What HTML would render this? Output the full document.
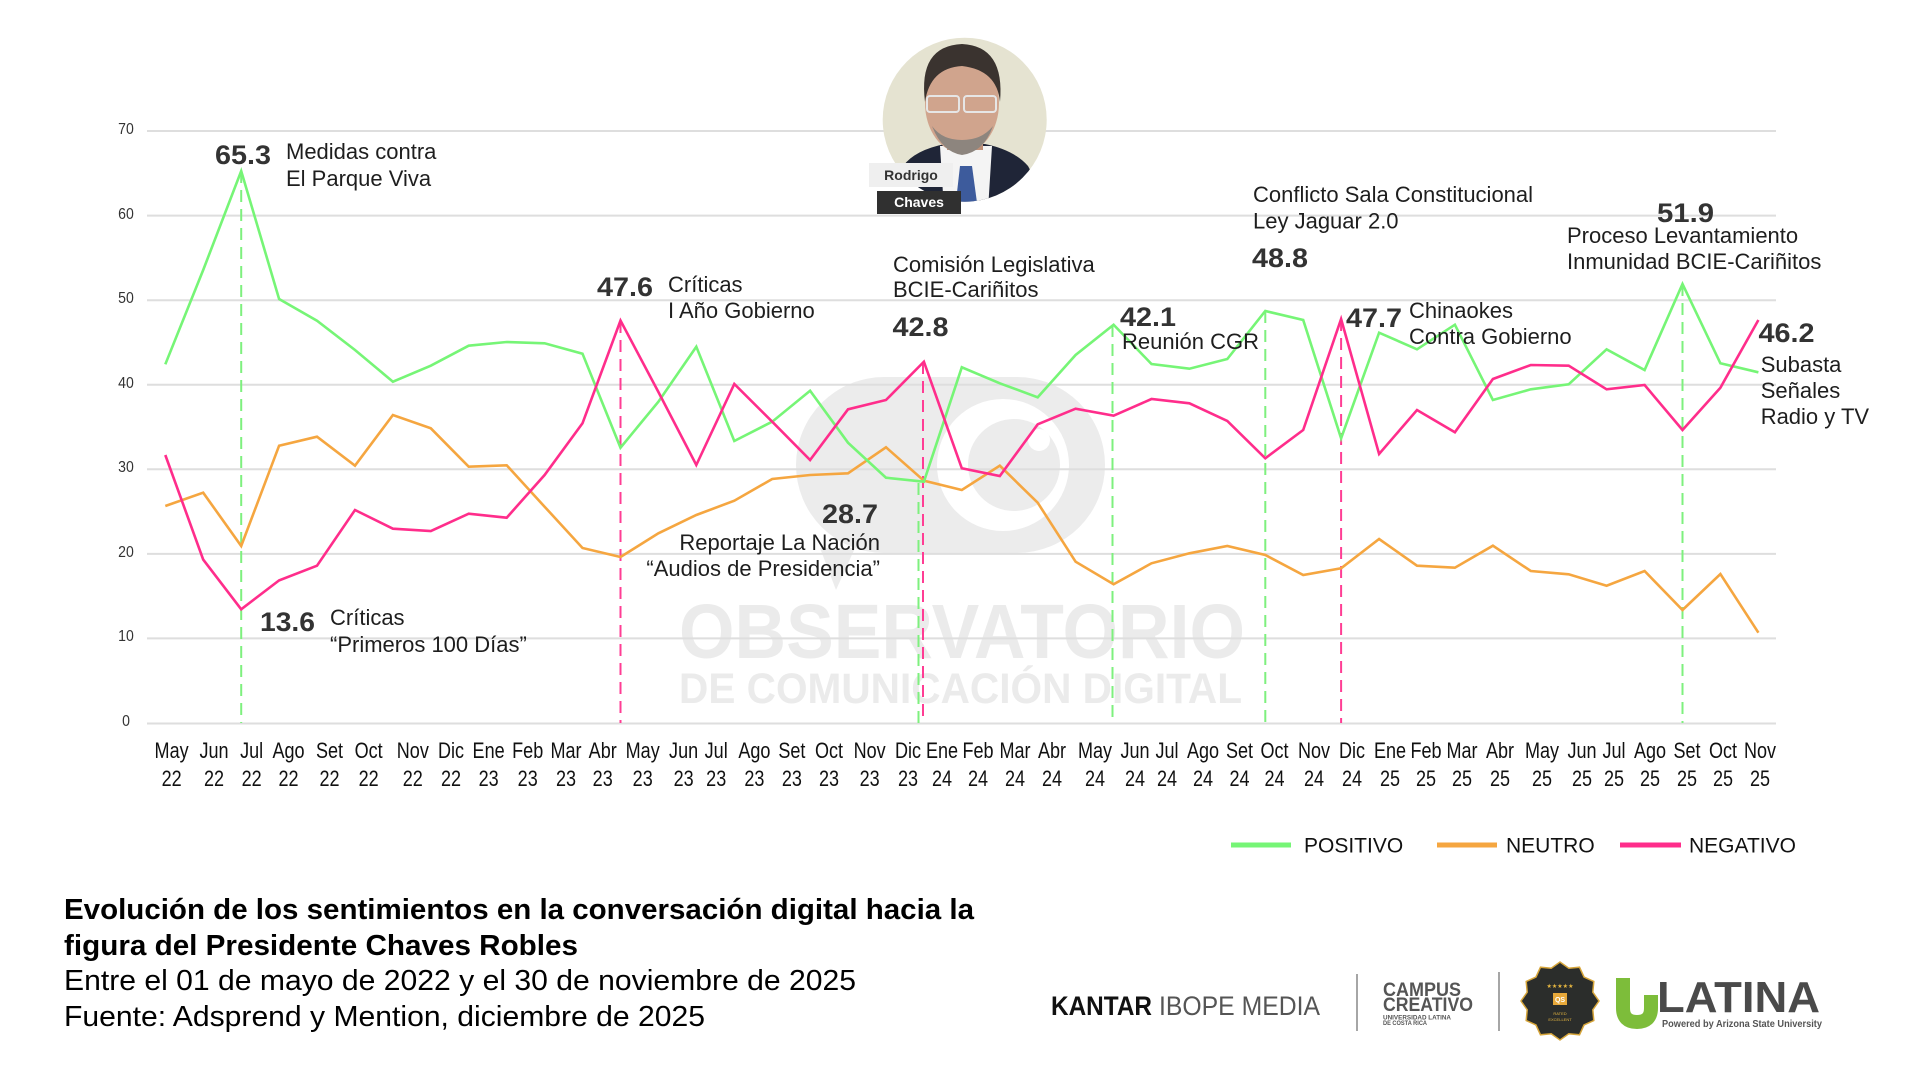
<!DOCTYPE html>
<html><head><meta charset="utf-8"><style>
html,body{margin:0;padding:0;background:#fff;}
svg{display:block;font-family:"Liberation Sans",Arial,sans-serif;}
</style></head><body>
<svg width="1920" height="1080" viewBox="0 0 1920 1080" xmlns="http://www.w3.org/2000/svg">
<rect width="1920" height="1080" fill="#fff"/>
<!-- watermark -->
<g fill="#ececec">
<rect x="796" y="377" width="309" height="176" rx="88" ry="88"/>
<polygon points="820,548 855,548 836,590"/>
</g>
<circle cx="1003" cy="465" r="66" fill="#fff"/>
<circle cx="1014" cy="465" r="46" fill="#ececec"/>
<circle cx="1039" cy="440" r="11" fill="#fff"/>
<text x="679" y="658" font-size="77" font-weight="bold" fill="#ebebeb" textLength="566" lengthAdjust="spacingAndGlyphs">OBSERVATORIO</text>
<text x="679" y="703" font-size="43" font-weight="bold" fill="#ebebeb" textLength="563" lengthAdjust="spacingAndGlyphs">DE COMUNICACIÓN DIGITAL</text>
<!-- gridlines -->
<g stroke="#dedede" stroke-width="2">
<line x1="147" y1="131" x2="1776" y2="131"/>
<line x1="147" y1="215.6" x2="1776" y2="215.6"/>
<line x1="147" y1="300.2" x2="1776" y2="300.2"/>
<line x1="147" y1="384.7" x2="1776" y2="384.7"/>
<line x1="147" y1="469.3" x2="1776" y2="469.3"/>
<line x1="147" y1="553.9" x2="1776" y2="553.9"/>
<line x1="147" y1="638.4" x2="1776" y2="638.4"/>
<line x1="147" y1="723.5" x2="1776" y2="723.5"/>
</g>
<!-- y labels -->
<g font-size="16" fill="#333" text-anchor="middle">
<text transform="translate(126,134) scale(.88,1)">70</text>
<text transform="translate(126,219) scale(.88,1)">60</text>
<text transform="translate(126,303) scale(.88,1)">50</text>
<text transform="translate(126,388) scale(.88,1)">40</text>
<text transform="translate(126,472) scale(.88,1)">30</text>
<text transform="translate(126,557) scale(.88,1)">20</text>
<text transform="translate(126,641) scale(.88,1)">10</text>
<text transform="translate(126,726) scale(.88,1)">0</text>
</g>
<!-- dashed event lines -->
<g stroke-width="2" stroke-dasharray="12 7" fill="none">
<line x1="241.2" y1="171" x2="241.2" y2="723" stroke="#7ef07e"/>
<line x1="620.5" y1="321" x2="620.5" y2="723" stroke="#ff3d94"/>
<line x1="918.5" y1="483" x2="918.5" y2="723" stroke="#7ef07e"/>
<line x1="923" y1="362" x2="923" y2="723" stroke="#ff3d94"/>
<line x1="1112.5" y1="325" x2="1112.5" y2="723" stroke="#7ef07e"/>
<line x1="1265.3" y1="311" x2="1265.3" y2="723" stroke="#7ef07e"/>
<line x1="1341.1" y1="319" x2="1341.1" y2="723" stroke="#ff3d94"/>
<line x1="1682.5" y1="284" x2="1682.5" y2="723" stroke="#7ef07e"/>
</g>
<!-- series -->
<g fill="none" stroke-width="2.6" stroke-linejoin="miter">
<polyline stroke="#f5a640" points="165.3,506 203.2,492.7 241.2,546 279.1,445.7 317,436.7 355,465.7 392.9,415 430.8,428.3 468.7,466.7 506.7,465.3 544.6,506.7 582.5,548 620.5,557 658.4,533.3 696.3,515 734.3,500.7 772.2,479 810.1,475 848,473.3 886,447.3 923.9,480.7 961.8,490 999.8,465.7 1037.7,502.7 1075.6,561.7 1113.6,584.3 1151.5,563.3 1189.4,553.3 1227.3,546 1265.3,555 1303.2,575 1341.1,568.3 1379.1,539 1417,565.7 1454.9,567.7 1492.9,545.7 1530.8,571 1568.7,574.3 1606.6,585.7 1644.6,571 1682.5,610 1720.4,574 1758.4,632.7"/>
<polyline stroke="#76f576" points="165.3,364.3 203.2,270 241.2,171 279.1,299 317,320.7 355,350 392.9,381.7 430.8,365.7 468.7,345.7 506.7,342 544.6,343.3 582.5,353.7 620.5,447.7 658.4,401.7 696.3,346.7 734.3,441 772.2,421.7 810.1,390.7 848,442.7 886,477.7 923.9,481.7 961.8,367.3 999.8,383.3 1037.7,397.3 1075.6,355 1113.6,324.7 1151.5,364 1189.4,368.7 1227.3,359 1265.3,311 1303.2,320 1341.1,438.3 1379.1,332.7 1417,349.3 1454.9,324.7 1492.9,400 1530.8,389.3 1568.7,384.3 1606.6,349.3 1644.6,370 1682.5,284 1720.4,363.3 1758.4,372.3"/>
<polyline stroke="#ff2d8b" points="165.3,455 203.2,559.6 241.2,609.3 279.1,580.4 317,565.7 355,510 392.9,528.7 430.8,531 468.7,513.7 506.7,517.7 544.6,475 582.5,423.3 620.5,320.5 658.4,392 696.3,465 734.3,384 772.2,421.7 810.1,460 848,409.3 886,400 923.9,361.7 961.8,468.3 999.8,476 1037.7,424.3 1075.6,408.7 1113.6,415.7 1151.5,399 1189.4,403.3 1227.3,421 1265.3,458.3 1303.2,430 1341.1,319 1379.1,454 1417,410 1454.9,432.3 1492.9,379 1530.8,365 1568.7,365.7 1606.6,389.3 1644.6,385 1682.5,430 1720.4,387.7 1758.4,320"/>
</g>
<!-- annotations -->
<g font-size="27" font-weight="bold" fill="#333">
<text x="215" y="164" textLength="56" lengthAdjust="spacingAndGlyphs">65.3</text>
<text x="597" y="296" textLength="56" lengthAdjust="spacingAndGlyphs">47.6</text>
<text x="260" y="631" textLength="55" lengthAdjust="spacingAndGlyphs">13.6</text>
<text x="892.5" y="336" textLength="56" lengthAdjust="spacingAndGlyphs">42.8</text>
<text x="822" y="523" textLength="56" lengthAdjust="spacingAndGlyphs">28.7</text>
<text x="1120" y="326" textLength="56" lengthAdjust="spacingAndGlyphs">42.1</text>
<text x="1252" y="267" textLength="56" lengthAdjust="spacingAndGlyphs">48.8</text>
<text x="1346" y="327" textLength="56" lengthAdjust="spacingAndGlyphs">47.7</text>
<text x="1657" y="222" textLength="57" lengthAdjust="spacingAndGlyphs">51.9</text>
<text x="1758.5" y="342" textLength="56" lengthAdjust="spacingAndGlyphs">46.2</text>
</g>
<g font-size="22" fill="#1e1e1e">
<text x="286" y="159">Medidas contra</text>
<text x="286" y="186">El Parque Viva</text>
<text x="668" y="292">Críticas</text>
<text x="668" y="318">I Año Gobierno</text>
<text x="330" y="625">Críticas</text>
<text x="330" y="652">“Primeros 100 Días”</text>
<text x="893" y="272">Comisión Legislativa</text>
<text x="893" y="297">BCIE-Cariñitos</text>
<text x="880" y="550" text-anchor="end">Reportaje La Nación</text>
<text x="880" y="576" text-anchor="end">“Audios de Presidencia”</text>
<text x="1122" y="349">Reunión CGR</text>
<text x="1253" y="202">Conflicto Sala Constitucional</text>
<text x="1253" y="228.5">Ley Jaguar 2.0</text>
<text x="1409" y="318">Chinaokes</text>
<text x="1409" y="344">Contra Gobierno</text>
<text x="1567" y="243">Proceso Levantamiento</text>
<text x="1567" y="269">Inmunidad BCIE-Cariñitos</text>
<text x="1760.7" y="372">Subasta</text>
<text x="1760.7" y="398">Señales</text>
<text x="1760.7" y="424">Radio y TV</text>
</g>
<!-- x labels -->
<g font-size="22" fill="#111" text-anchor="middle">
<g transform="translate(171.6,0) scale(.82,1)"><text y="758">May</text><text y="786">22</text></g>
<g transform="translate(214,0) scale(.82,1)"><text y="758">Jun</text><text y="786">22</text></g>
<g transform="translate(251.6,0) scale(.82,1)"><text y="758">Jul</text><text y="786">22</text></g>
<g transform="translate(288.5,0) scale(.82,1)"><text y="758">Ago</text><text y="786">22</text></g>
<g transform="translate(329.5,0) scale(.82,1)"><text y="758">Set</text><text y="786">22</text></g>
<g transform="translate(368.6,0) scale(.82,1)"><text y="758">Oct</text><text y="786">22</text></g>
<g transform="translate(412.8,0) scale(.82,1)"><text y="758">Nov</text><text y="786">22</text></g>
<g transform="translate(451,0) scale(.82,1)"><text y="758">Dic</text><text y="786">22</text></g>
<g transform="translate(488.6,0) scale(.82,1)"><text y="758">Ene</text><text y="786">23</text></g>
<g transform="translate(527.7,0) scale(.82,1)"><text y="758">Feb</text><text y="786">23</text></g>
<g transform="translate(566,0) scale(.82,1)"><text y="758">Mar</text><text y="786">23</text></g>
<g transform="translate(602.7,0) scale(.82,1)"><text y="758">Abr</text><text y="786">23</text></g>
<g transform="translate(642.7,0) scale(.82,1)"><text y="758">May</text><text y="786">23</text></g>
<g transform="translate(683.6,0) scale(.82,1)"><text y="758">Jun</text><text y="786">23</text></g>
<g transform="translate(716.2,0) scale(.82,1)"><text y="758">Jul</text><text y="786">23</text></g>
<g transform="translate(754.4,0) scale(.82,1)"><text y="758">Ago</text><text y="786">23</text></g>
<g transform="translate(791.9,0) scale(.82,1)"><text y="758">Set</text><text y="786">23</text></g>
<g transform="translate(829,0) scale(.82,1)"><text y="758">Oct</text><text y="786">23</text></g>
<g transform="translate(869.6,0) scale(.82,1)"><text y="758">Nov</text><text y="786">23</text></g>
<g transform="translate(908,0) scale(.82,1)"><text y="758">Dic</text><text y="786">23</text></g>
<g transform="translate(942,0) scale(.82,1)"><text y="758">Ene</text><text y="786">24</text></g>
<g transform="translate(978,0) scale(.82,1)"><text y="758">Feb</text><text y="786">24</text></g>
<g transform="translate(1015,0) scale(.82,1)"><text y="758">Mar</text><text y="786">24</text></g>
<g transform="translate(1052,0) scale(.82,1)"><text y="758">Abr</text><text y="786">24</text></g>
<g transform="translate(1095,0) scale(.82,1)"><text y="758">May</text><text y="786">24</text></g>
<g transform="translate(1135,0) scale(.82,1)"><text y="758">Jun</text><text y="786">24</text></g>
<g transform="translate(1167,0) scale(.82,1)"><text y="758">Jul</text><text y="786">24</text></g>
<g transform="translate(1203,0) scale(.82,1)"><text y="758">Ago</text><text y="786">24</text></g>
<g transform="translate(1239.5,0) scale(.82,1)"><text y="758">Set</text><text y="786">24</text></g>
<g transform="translate(1274.5,0) scale(.82,1)"><text y="758">Oct</text><text y="786">24</text></g>
<g transform="translate(1314,0) scale(.82,1)"><text y="758">Nov</text><text y="786">24</text></g>
<g transform="translate(1352,0) scale(.82,1)"><text y="758">Dic</text><text y="786">24</text></g>
<g transform="translate(1390,0) scale(.82,1)"><text y="758">Ene</text><text y="786">25</text></g>
<g transform="translate(1426,0) scale(.82,1)"><text y="758">Feb</text><text y="786">25</text></g>
<g transform="translate(1462,0) scale(.82,1)"><text y="758">Mar</text><text y="786">25</text></g>
<g transform="translate(1500,0) scale(.82,1)"><text y="758">Abr</text><text y="786">25</text></g>
<g transform="translate(1542,0) scale(.82,1)"><text y="758">May</text><text y="786">25</text></g>
<g transform="translate(1582,0) scale(.82,1)"><text y="758">Jun</text><text y="786">25</text></g>
<g transform="translate(1614,0) scale(.82,1)"><text y="758">Jul</text><text y="786">25</text></g>
<g transform="translate(1650,0) scale(.82,1)"><text y="758">Ago</text><text y="786">25</text></g>
<g transform="translate(1687,0) scale(.82,1)"><text y="758">Set</text><text y="786">25</text></g>
<g transform="translate(1723,0) scale(.82,1)"><text y="758">Oct</text><text y="786">25</text></g>
<g transform="translate(1760,0) scale(.82,1)"><text y="758">Nov</text><text y="786">25</text></g>
</g>
<!-- photo -->
<defs><clipPath id="pc"><circle cx="964.7" cy="119.7" r="82"/></clipPath></defs>
<g clip-path="url(#pc)">
<rect x="880" y="36" width="170" height="170" fill="#e5e3d1"/>
<path d="M892,210 L903,166 Q915,150 945,144 L985,144 Q1014,150 1028,166 L1052,210 Z" fill="#1f2537"/>
<polygon points="940,146 992,146 988,210 944,210" fill="#f4f4f4"/>
<polygon points="960,166 972,166 978,210 955,210" fill="#3d5b9c"/>
<rect x="947" y="128" width="36" height="22" fill="#bf8f77"/>
<ellipse cx="962" cy="103" rx="37" ry="50" fill="#d0a48d"/>
<path d="M932,126 Q942,152 962,155 Q984,152 993,126 Q982,140 962,140 Q942,140 932,126 Z" fill="#8d857e"/>
<path d="M925,102 Q918,46 962,44 Q1005,46 1000,102 Q997,70 962,66 Q930,68 925,102 Z" fill="#3a332f"/>
<rect x="927" y="96" width="32" height="16" rx="3" fill="none" stroke="#e6e6e6" stroke-width="2"/>
<rect x="964" y="96" width="32" height="16" rx="3" fill="none" stroke="#e6e6e6" stroke-width="2"/>
</g>
<rect x="869" y="163" width="84" height="24" fill="#efefef"/>
<text x="911" y="180" font-size="14" font-weight="bold" fill="#333" text-anchor="middle">Rodrigo</text>
<rect x="877" y="191" width="84" height="23" fill="#303030"/>
<text x="919" y="207" font-size="14" font-weight="bold" fill="#fff" text-anchor="middle">Chaves</text>
<!-- legend -->
<g stroke-width="5">
<line x1="1231" y1="845" x2="1291" y2="845" stroke="#76f576"/>
<line x1="1437" y1="845" x2="1497" y2="845" stroke="#f5a640"/>
<line x1="1620" y1="845" x2="1681" y2="845" stroke="#ff2d8b"/>
</g>
<g font-size="21" fill="#111">
<text x="1304" y="852.5">POSITIVO</text>
<text x="1506" y="852.5">NEUTRO</text>
<text x="1689" y="852.5">NEGATIVO</text>
</g>
<!-- title block -->
<g fill="#000">
<text x="64" y="919" font-size="29" font-weight="bold" textLength="910" lengthAdjust="spacingAndGlyphs">Evolución de los sentimientos en la conversación digital hacia la</text>
<text x="64" y="955" font-size="29" font-weight="bold" textLength="514" lengthAdjust="spacingAndGlyphs">figura del Presidente Chaves Robles</text>
<text x="64" y="990" font-size="29" textLength="792" lengthAdjust="spacingAndGlyphs">Entre el 01 de mayo de 2022 y el 30 de noviembre de 2025</text>
<text x="64" y="1026" font-size="29" textLength="641" lengthAdjust="spacingAndGlyphs">Fuente: Adsprend y Mention, diciembre de 2025</text>
</g>
<!-- logos -->
<text x="1051" y="1015" font-size="27" font-weight="bold" fill="#111" textLength="101" lengthAdjust="spacingAndGlyphs">KANTAR</text>
<text x="1159" y="1015" font-size="27" fill="#555" textLength="161" lengthAdjust="spacingAndGlyphs">IBOPE MEDIA</text>
<line x1="1357" y1="974" x2="1357" y2="1031" stroke="#888" stroke-width="1.5"/>
<text x="1383" y="996" font-size="19" font-weight="bold" fill="#555" textLength="78" lengthAdjust="spacingAndGlyphs">CAMPUS</text>
<text x="1383" y="1011" font-size="19" font-weight="bold" fill="#555" textLength="90" lengthAdjust="spacingAndGlyphs">CREATIVO</text>
<text x="1383" y="1019.5" font-size="6" font-weight="bold" fill="#555" textLength="68" lengthAdjust="spacingAndGlyphs">UNIVERSIDAD LATINA</text>
<text x="1383" y="1025" font-size="6" font-weight="bold" fill="#555" textLength="44" lengthAdjust="spacingAndGlyphs">DE COSTA RICA</text>
<line x1="1499" y1="972" x2="1499" y2="1031" stroke="#888" stroke-width="1.5"/>
<polygon fill="#2b2d2b" stroke="#d6a53a" stroke-width="1.5" points="1599,1001 1592.8,1009.8 1593.8,1020.5 1584,1025 1579.5,1034.8 1568.8,1033.8 1560,1040 1551.2,1033.8 1540.5,1034.8 1536,1025 1526.2,1020.5 1527.2,1009.8 1521,1001 1527.2,992.2 1526.2,981.5 1536,977 1540.5,967.2 1551.2,968.2 1560,962 1568.8,968.2 1579.5,967.2 1584,977 1593.8,981.5 1592.8,992.2"/>
<text x="1560" y="988" font-size="6" fill="#e6b640" text-anchor="middle">★★★★★</text>
<rect x="1553" y="993" width="14" height="12" fill="#e8a93a"/>
<text x="1560" y="1002" font-size="7" font-weight="bold" fill="#fff" text-anchor="middle">QS</text>
<text x="1560" y="1015" font-size="4" fill="#e6b640" text-anchor="middle">RATED</text>
<text x="1560" y="1021" font-size="4" fill="#e6b640" text-anchor="middle">EXCELLENT</text>
<path d="M1623,978 L1623,1008 Q1623,1022 1637,1022 Q1651,1022 1651,1008 L1651,995" fill="none" stroke="#7dbd3a" stroke-width="14"/>
<text x="1657" y="1012" font-size="44" font-weight="bold" fill="#4a4a4a" textLength="163" lengthAdjust="spacingAndGlyphs">LATINA</text>
<text x="1662" y="1027" font-size="10" font-weight="bold" fill="#555" textLength="160" lengthAdjust="spacingAndGlyphs">Powered by Arizona State University</text>
</svg>
</body></html>
